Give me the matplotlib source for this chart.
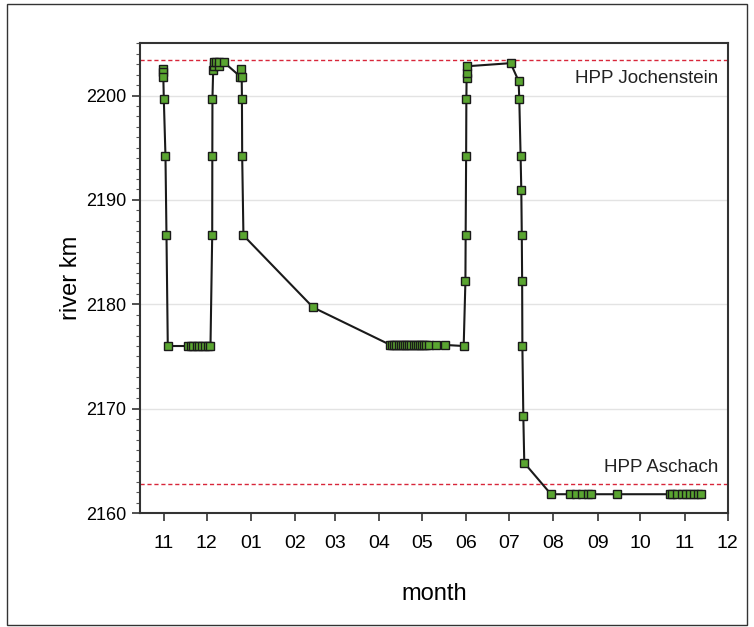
import pandas as pd
import matplotlib
matplotlib.use('Agg')
from matplotlib import pyplot as plt
import matplotlib.dates as mdates
from matplotlib.ticker import MultipleLocator
from matplotlib.patches import Rectangle

plt.rcParams['font.family'] = ['Liberation Sans', 'DejaVu Sans']

# detection times of the tagged fish and the river km of the receiver
zeit = [
    '2009-10-31 12:00', '2009-10-31 14:00', '2009-10-31 16:00', '2009-11-01 00:00',
    '2009-11-02 04:00', '2009-11-02 21:00', '2009-11-03 19:00',
    '2009-11-18 07:00', '2009-11-19 17:00', '2009-11-21 19:00', '2009-11-23 22:00',
    '2009-11-26 00:00', '2009-11-28 02:00', '2009-11-30 05:00', '2009-12-02 07:00',
    '2009-12-03 17:00',
    '2009-12-04 22:00', '2009-12-05 00:00', '2009-12-05 02:00', '2009-12-05 14:00',
    '2009-12-06 00:00', '2009-12-06 04:00', '2009-12-07 22:00', '2009-12-09 12:00',
    '2009-12-10 00:00', '2009-12-13 00:00',
    '2009-12-24 17:00', '2009-12-25 05:00', '2009-12-25 14:00', '2009-12-25 18:00',
    '2009-12-25 22:00', '2009-12-26 19:00',
    '2010-02-13 14:00',
    '2010-04-08 19:00', '2010-04-10 00:00', '2010-04-11 12:00', '2010-04-13 00:00',
    '2010-04-14 12:00', '2010-04-16 00:00', '2010-04-17 12:00', '2010-04-19 00:00',
    '2010-04-20 12:00', '2010-04-22 00:00', '2010-04-23 12:00', '2010-04-25 00:00',
    '2010-04-26 12:00', '2010-04-28 00:00', '2010-04-29 12:00', '2010-05-01 00:00',
    '2010-05-02 12:00', '2010-05-03 12:00',
    '2010-05-05 14:00', '2010-05-11 00:00', '2010-05-17 07:00', '2010-05-30 03:00',
    '2010-05-31 08:00', '2010-05-31 12:00', '2010-05-31 20:00', '2010-06-01 00:00',
    '2010-06-01 04:00', '2010-06-01 06:00', '2010-06-01 08:00',
    '2010-07-02 00:00', '2010-07-07 14:00', '2010-07-08 02:00', '2010-07-09 00:00',
    '2010-07-09 12:00', '2010-07-09 20:00', '2010-07-10 02:00', '2010-07-10 06:00',
    '2010-07-10 22:00', '2010-07-11 14:00',
    '2010-07-30 07:00', '2010-08-12 19:00', '2010-08-17 00:00', '2010-08-21 00:00',
    '2010-08-24 22:00', '2010-08-27 07:00', '2010-09-14 12:00',
    '2010-10-22 00:00', '2010-10-23 00:00', '2010-10-26 12:00', '2010-10-30 00:00',
    '2010-11-02 00:00', '2010-11-04 19:00', '2010-11-07 14:00', '2010-11-10 05:00',
    '2010-11-12 07:00',
]
flusskm = [
    2202.5, 2202.3, 2201.75, 2199.7,
    2194.2, 2186.6, 2176.0,
    2176.0, 2176.0, 2176.0, 2176.0,
    2176.0, 2176.0, 2176.0, 2176.0,
    2176.0,
    2186.6, 2194.2, 2199.7, 2202.4,
    2202.8, 2203.2, 2203.2, 2202.8,
    2203.2, 2203.2,
    2201.8, 2202.5, 2201.75, 2199.7,
    2194.2, 2186.6,
    2179.7,
    2176.1, 2176.1, 2176.1, 2176.1,
    2176.1, 2176.1, 2176.1, 2176.1,
    2176.1, 2176.1, 2176.1, 2176.1,
    2176.1, 2176.1, 2176.1, 2176.1,
    2176.1, 2176.1,
    2176.1, 2176.1, 2176.1, 2176.0,
    2182.2, 2186.6, 2194.2, 2199.7,
    2201.7, 2202.2, 2202.8,
    2203.1, 2201.4, 2199.7, 2194.2,
    2190.9, 2186.6, 2182.2, 2176.0,
    2169.25, 2164.8,
    2161.8, 2161.8, 2161.8, 2161.8,
    2161.8, 2161.8, 2161.8,
    2161.8, 2161.8, 2161.8, 2161.8,
    2161.8, 2161.8, 2161.8, 2161.8,
    2161.8,
]

kraftwerke = ['HPP Jochenstein', 'HPP Aschach']
kraftwerk_km = [2203.45, 2162.8]

dados = pd.DataFrame({'zeit': pd.to_datetime(zeit), 'km': flusskm})

fig = plt.figure(figsize=(7.54, 6.27), dpi=100)
ax = fig.add_axes([0.1857, 0.1818, 0.7792, 0.7491])

# Rahmen um die ganze Grafik
fig.patches.append(Rectangle((0.009, 0.003), 0.982, 0.99, transform=fig.transFigure,
                             fill=False, edgecolor='#333333', linewidth=1.0))

ax.yaxis.grid(True, color='#e3e3e3', linewidth=1.0)
ax.set_axisbelow(True)

for km in kraftwerk_km:
    ax.axhline(km, color='#d8263a', linestyle=(0, (3, 2)), linewidth=1.0, zorder=1)

ax.plot(dados['zeit'], dados['km'], color='#1a1a1a', linewidth=1.5, marker='s',
        markersize=5.5, markerfacecolor='#5aa531', markeredgecolor='#1a1a1a',
        markeredgewidth=1.0, zorder=3)

ax.text(0.985, 0.925, kraftwerke[0], transform=ax.transAxes, ha='right', va='center',
        fontsize=13.5, color='#222222')
ax.text(0.985, 0.097, kraftwerke[1], transform=ax.transAxes, ha='right', va='center',
        fontsize=13.5, color='#222222')

ax.set_xlim(pd.Timestamp('2009-10-15 08:00'), pd.Timestamp('2010-12-01'))
ax.set_ylim(2160, 2205)
ax.xaxis.set_major_locator(mdates.MonthLocator())
ax.xaxis.set_major_formatter(mdates.DateFormatter('%m'))
ax.yaxis.set_major_locator(MultipleLocator(10))
ax.yaxis.set_minor_locator(MultipleLocator(1))

ax.tick_params(axis='both', which='major', direction='out', length=6,
               width=1.2, color='#333333')
ax.tick_params(axis='x', which='major', labelsize=14, pad=10)
ax.tick_params(axis='y', which='major', labelsize=13, pad=4)
ax.tick_params(axis='y', which='minor', direction='out', length=3, width=0.8, color='#555555')
for lado in ax.spines.values():
    lado.set_linewidth(1.5)
    lado.set_color('#333333')

ax.set_xlabel('month', fontsize=17, labelpad=22)
ax.set_ylabel('river km', fontsize=17, labelpad=3)

plt.savefig('out.png', dpi=100)
